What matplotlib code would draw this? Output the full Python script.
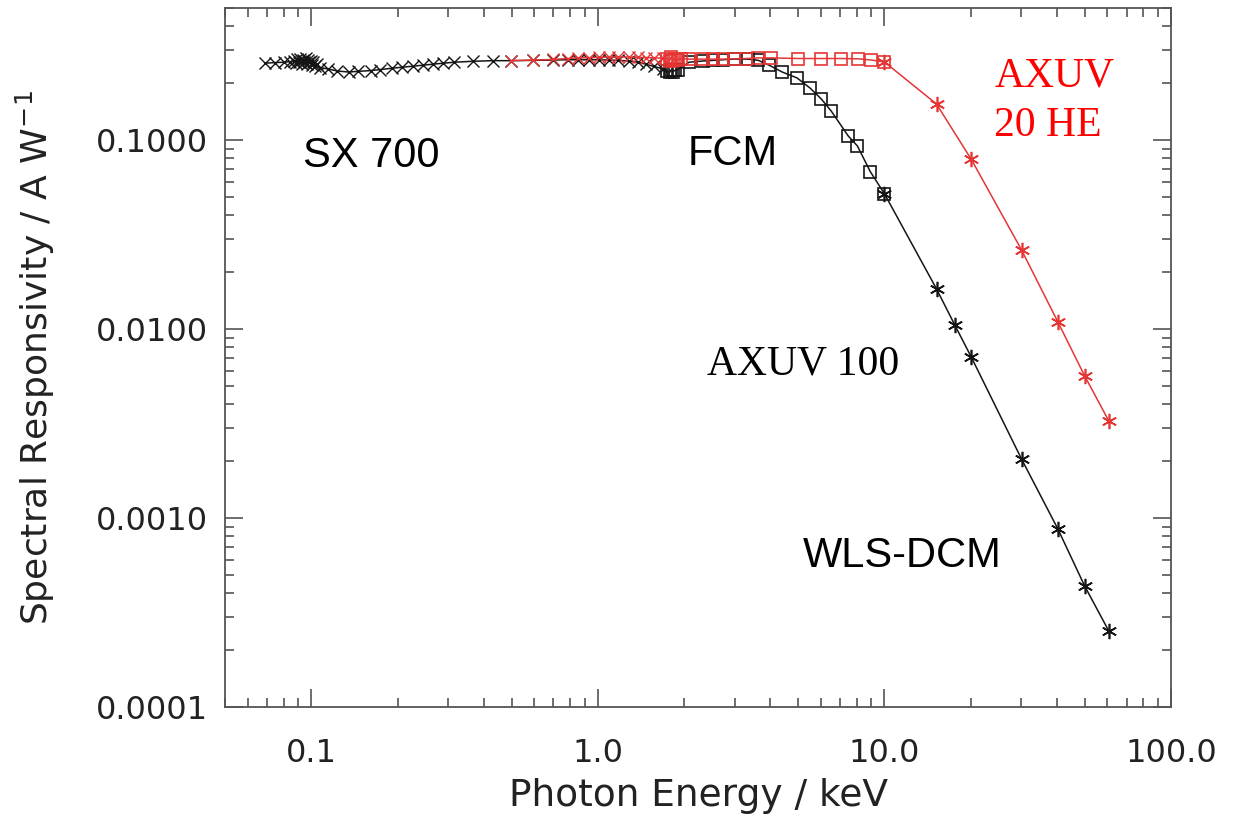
import matplotlib
matplotlib.use("Agg")
import matplotlib.pyplot as plt
import numpy as np
from matplotlib.ticker import FixedLocator, FixedFormatter, LogLocator, NullFormatter

# AXUV 100 (black) -- SX 700 monochromator range
sx_e_black = [0.069, 0.0748, 0.080, 0.0843, 0.0870, 0.0885, 0.0895, 0.0905, 0.0915,
              0.0925, 0.0935, 0.0945, 0.0955, 0.0965, 0.0975, 0.0985, 0.0995, 0.1005,
              0.1015, 0.103, 0.105, 0.107, 0.114, 0.123, 0.135, 0.146, 0.161, 0.174,
              0.192, 0.208, 0.227, 0.246, 0.265, 0.289, 0.314, 0.366, 0.429, 0.497,
              0.593, 0.696, 0.785, 0.85, 0.93, 1.01, 1.09, 1.18, 1.28, 1.38, 1.47,
              1.57, 1.69]
sx_r_black = [0.255, 0.257, 0.258, 0.260, 0.262, 0.255, 0.268, 0.258, 0.270,
              0.252, 0.265, 0.260, 0.272, 0.254, 0.266, 0.258, 0.262, 0.250,
              0.258, 0.246, 0.252, 0.242, 0.238, 0.232, 0.229, 0.231, 0.233, 0.236,
              0.240, 0.243, 0.246, 0.249, 0.252, 0.255, 0.258, 0.261, 0.263, 0.263,
              0.264, 0.265, 0.266, 0.266, 0.266, 0.266, 0.265, 0.264, 0.262, 0.258, 0.252,
              0.245, 0.238]

# AXUV 20 HE (red) -- SX 700
sx_e_red = [0.497, 0.593, 0.696, 0.785, 0.85, 0.93, 1.01, 1.09, 1.18, 1.28, 1.38,
            1.47, 1.57, 1.69]
sx_r_red = [0.263, 0.265, 0.267, 0.270, 0.272, 0.273, 0.274, 0.275, 0.275, 0.275,
            0.274, 0.273, 0.272, 0.271]

# FCM range
fcm_e_black = [1.75, 1.78, 1.80, 1.83, 1.86, 1.90, 2.08, 2.33, 2.53, 2.73, 2.99, 3.35,
               3.63, 3.96, 4.40, 4.96, 5.51, 6.02, 6.53, 7.48, 8.05, 8.93, 10.0]
fcm_r_black = [0.232, 0.228, 0.235, 0.230, 0.234, 0.236, 0.258, 0.262, 0.264, 0.266,
               0.268, 0.268, 0.264, 0.249, 0.229, 0.213, 0.188, 0.165, 0.142, 0.105,
               0.093, 0.068, 0.052]
fcm_e_red = [1.75, 1.78, 1.80, 1.83, 1.86, 1.90, 1.95, 2.08, 2.33, 2.53, 2.73, 2.99,
             3.29, 3.63, 4.03, 5.0, 6.02, 7.07, 8.1, 9.0, 10.0]
fcm_r_red = [0.270, 0.262, 0.275, 0.265, 0.270, 0.266, 0.270, 0.268, 0.268, 0.268,
             0.268, 0.269, 0.270, 0.272, 0.272, 0.270, 0.270, 0.270, 0.269, 0.265, 0.259]

# WLS-DCM range
dcm_e_black = [10.0, 15.2, 17.6, 20.1, 30.1, 40.3, 50.0, 60.7]
dcm_r_black = [0.052, 0.0163, 0.0105, 0.0071, 0.00205, 0.000875, 0.000436, 0.000252]
dcm_e_red = [10.0, 15.2, 20.1, 30.1, 40.3, 50.0, 60.7]
dcm_r_red = [0.259, 0.155, 0.079, 0.0262, 0.0109, 0.00564, 0.00326]

y_ticks = [0.0001, 0.001, 0.01, 0.1]
y_labels = ["0.0001", "0.0010", "0.0100", "0.1000"]
x_ticks = [0.1, 1.0, 10.0, 100.0]
x_labels = ["0.1", "1.0", "10.0", "100.0"]

BLACK = "#151515"
RED = "#e53535"
asterisk = (6, 2, 0)

fig = plt.figure(figsize=(12.33, 8.19), dpi=100)
ax = fig.add_axes([0.1825, 0.1368, 0.7672, 0.8535])

# connecting lines for each detector
ax.plot(sx_e_black + fcm_e_black + dcm_e_black[1:], sx_r_black + fcm_r_black + dcm_r_black[1:],
        color=BLACK, lw=1.1, zorder=2)
ax.plot(sx_e_red + fcm_e_red + dcm_e_red[1:], sx_r_red + fcm_r_red + dcm_r_red[1:],
        color=RED, lw=1.1, zorder=3)

# markers
ax.plot(sx_e_black, sx_r_black, ls="none", marker="x", ms=8.5, mew=1.0, color=BLACK, zorder=2)
ax.plot(fcm_e_black, fcm_r_black, ls="none", marker="s", ms=9, mew=1.2, mfc="none",
        mec=BLACK, zorder=2)
ax.plot(dcm_e_black, dcm_r_black, ls="none", marker=asterisk, ms=11, mew=1.2, color=BLACK, zorder=2)
ax.plot(sx_e_red, sx_r_red, ls="none", marker="x", ms=8.5, mew=1.0, color=RED, zorder=3)
ax.plot(fcm_e_red, fcm_r_red, ls="none", marker="s", ms=9, mew=1.2, mfc="none",
        mec=RED, zorder=3)
ax.plot(dcm_e_red, dcm_r_red, ls="none", marker=asterisk, ms=11, mew=1.2, color=RED, zorder=3)

ax.set_xscale("log")
ax.set_yscale("log")
ax.set_xlim(0.05, 100.0)
ax.set_ylim(0.0001, 0.5)

ax.xaxis.set_major_locator(FixedLocator(x_ticks))
ax.xaxis.set_major_formatter(FixedFormatter(x_labels))
ax.yaxis.set_major_locator(FixedLocator(y_ticks))
ax.yaxis.set_major_formatter(FixedFormatter(y_labels))
ax.xaxis.set_minor_locator(LogLocator(base=10, subs=np.arange(2, 10)))
ax.yaxis.set_minor_locator(LogLocator(base=10, subs=np.arange(2, 10)))
ax.xaxis.set_minor_formatter(NullFormatter())
ax.yaxis.set_minor_formatter(NullFormatter())

ax.tick_params(which="both", direction="in", top=True, right=True, color="#555555", width=1.2)
ax.tick_params(which="major", length=13)
ax.tick_params(which="minor", length=6.5)
ax.tick_params(axis="x", which="major", pad=22, labelsize=23, labelcolor="#222222")
ax.tick_params(axis="y", which="major", pad=12, labelsize=23, labelcolor="#222222")
for lab in ax.get_xticklabels() + ax.get_yticklabels():
    lab.set_family("DejaVu Sans")

for sp in ax.spines.values():
    sp.set_color("#555555")
    sp.set_linewidth(1.3)

ax.set_xlabel("Photon Energy / keV", fontsize=27, color="#222222")
ax.set_ylabel("Spectral Responsivity / A W$^{-1}$", fontsize=26, color="#222222")
ax.xaxis.set_label_coords(0.5, -0.102)
ax.yaxis.set_label_coords(-0.178, 0.5)

# annotations
ax.text(0.0938, 0.072, "SX 700", family="Liberation Sans", fontsize=30, color="black",
        ha="left", va="baseline")
ax.text(2.05, 0.0738, "FCM", family="Liberation Sans", fontsize=30, color="black",
        ha="left", va="baseline")
ax.text(2.40, 0.00571, "AXUV 100", family="Liberation Serif", fontsize=30, color="black",
        ha="left", va="baseline")
ax.text(5.21, 0.00055, "WLS-DCM", family="Liberation Sans", fontsize=30, color="black",
        ha="left", va="baseline")
ax.text(24.2, 0.193, "AXUV", family="Liberation Serif", fontsize=30, color="#ff0000",
        ha="left", va="baseline")
ax.text(24.2, 0.105, "20 HE", family="Liberation Serif", fontsize=30, color="#ff0000",
        ha="left", va="baseline")

fig.savefig("out.png", dpi=100)
